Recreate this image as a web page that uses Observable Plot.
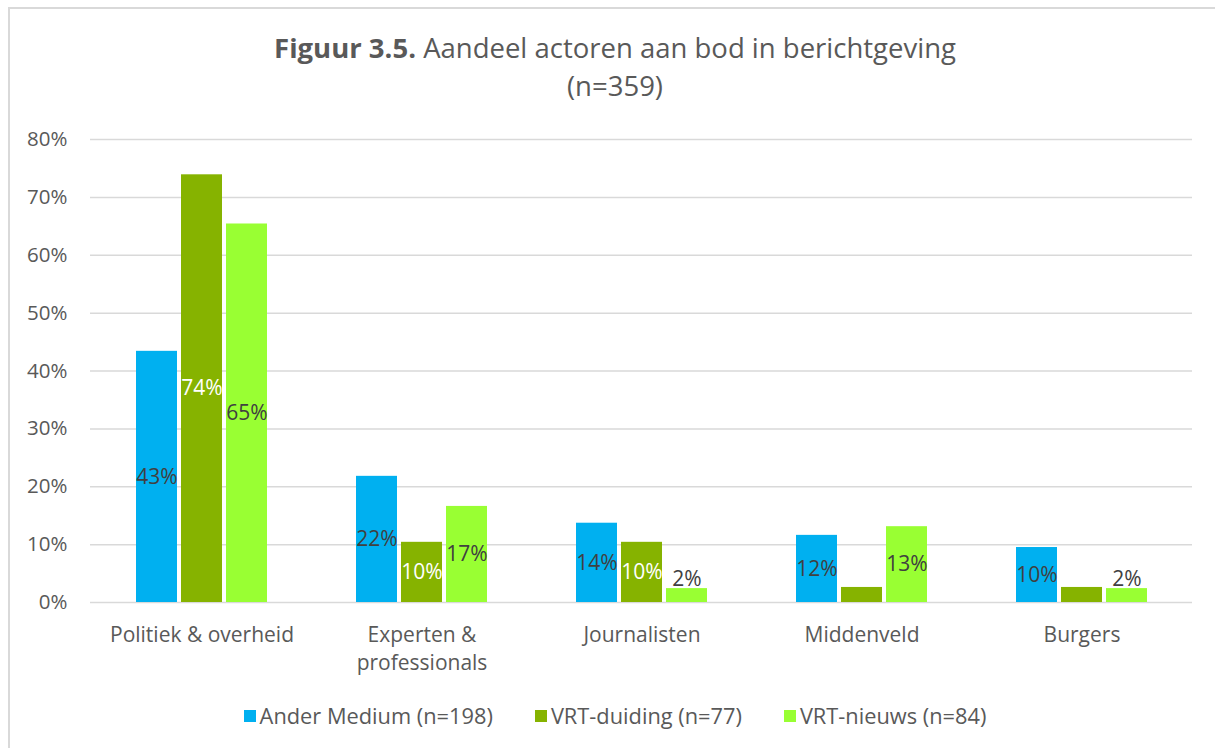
<!DOCTYPE html>
<html>
<head>
<meta charset="utf-8">
<script src="https://cdn.jsdelivr.net/npm/d3@7"></script>
<script src="https://cdn.jsdelivr.net/npm/@observablehq/plot@0.6"></script>
<style>
  html, body { margin: 0; padding: 0; background: #fff; }
  body { width: 1215px; height: 748px; overflow: hidden; position: relative; font-family: "Open Sans", sans-serif; color: #595959; }
  #frame { position: absolute; left: 8px; top: 7px; width: 1400px; height: 900px; border-top: 2px solid #d9d9d9; border-left: 2px solid #d9d9d9; }
  #title { position: absolute; left: 0; top: 29px; width: 1230px; text-align: center; font-size: 27.5px; line-height: 38px; color: #595959; }
  #grid, #chart { position: absolute; left: 0; top: 120px; }
  #legend { position: absolute; left: 0; top: 701px; width: 1230px; display: flex; justify-content: center; gap: 42px; font-size: 21.8px; color: #595959; }
  .item { display: flex; align-items: center; gap: 4px; }
  .sw { width: 12px; height: 12px; display: inline-block; }
</style>
</head>
<body>
<div id="frame"></div>
<div id="title"><b>Figuur 3.5.</b> Aandeel actoren aan bod in berichtgeving<br>(n=359)</div>
<div id="grid"></div>
<div id="chart"></div>
<div id="legend"></div>
<script>
const categories = ["Politiek & overheid", "Experten & professionals", "Journalisten", "Middenveld", "Burgers"];
const categoryLabels = ["Politiek & overheid", "Experten &\nprofessionals", "Journalisten", "Middenveld", "Burgers"];
const series = ["Ander Medium (n=198)", "VRT-duiding (n=77)", "VRT-nieuws (n=84)"];
const anderMedium = [43.4, 21.8, 13.7, 11.6, 9.5];
const vrtDuiding = [73.9, 10.4, 10.4, 2.6, 2.6];
const vrtNieuws = [65.4, 16.6, 2.4, 13.1, 2.4];
const showLabel = [
  [true, true, true, true, true],
  [true, true, true, false, false],
  [true, true, true, true, true]
];
const colors = ["#00B0F0", "#86B300", "#99FF33"];
const labelColors = ["#404040", "#ffffff", "#404040"];
const yTicks = [0, 10, 20, 30, 40, 50, 60, 70, 80];

const valuesBySeries = [anderMedium, vrtDuiding, vrtNieuws];
const rows = [];
categories.forEach((c, i) => {
  series.forEach((s, j) => {
    rows.push({cat: c, label: categoryLabels[i], series: s, value: valuesBySeries[j][i], show: showLabel[j][i], lc: labelColors[j]});
  });
});
const labelRows = rows.filter(d => d.show);
const inside = labelRows.filter(d => d.value >= 5);
const above = labelRows.filter(d => d.value < 5);
const catRows = categories.map((c, i) => ({cat: c, label: categoryLabels[i]}));

const common = {
  width: 1215,
  height: 570,
  marginTop: 19,
  marginBottom: 88,
  marginLeft: 90,
  marginRight: 23,
  style: {fontFamily: "Open Sans, sans-serif", fontSize: "20px", color: "#595959", background: "transparent"}
};

// background: gridlines and y axis across the whole frame
const grid = Plot.plot({
  ...common,
  y: {domain: [0, 80]},
  marks: [
    Plot.ruleY(yTicks, {stroke: "#d9d9d9", strokeWidth: 1.5}),
    Plot.axisY(yTicks, {tickSize: 0, tickPadding: 23, tickFormat: d => d + "%", label: null, fill: "#595959", fontSize: 20.5})
  ]
});
document.getElementById("grid").appendChild(grid);

const plot = Plot.plot({
  ...common,
  fx: {domain: categories, paddingInner: 0.405, paddingOuter: 0.2045, axis: null, label: null},
  x: {domain: series, paddingInner: 0.1, paddingOuter: 0, axis: null},
  y: {domain: [0, 80], axis: null},
  color: {domain: series, range: colors},
  marks: [
    Plot.barY(rows, {fx: "cat", x: "series", y: "value", fill: "series"}),
    Plot.text(inside, {fx: "cat", x: "series", y: d => d.value / 2, text: d => Math.round(d.value) + "%", fill: "lc", fontSize: 21}),
    Plot.text(above, {fx: "cat", x: "series", y: "value", text: d => Math.round(d.value) + "%", fill: "lc", fontSize: 21, lineAnchor: "bottom", dy: -3}),
    Plot.text(catRows, {fx: "cat", text: "label", frameAnchor: "bottom", lineAnchor: "top", dy: 19, lineHeight: 1.35, fill: "#595959", fontSize: 21})
  ]
});
document.getElementById("chart").appendChild(plot);

const legend = document.getElementById("legend");
series.forEach((s, j) => {
  const item = document.createElement("div");
  item.className = "item";
  const sw = document.createElement("span");
  sw.className = "sw";
  sw.style.background = colors[j];
  const t = document.createElement("span");
  t.textContent = s;
  item.appendChild(sw);
  item.appendChild(t);
  legend.appendChild(item);
});
</script>
</body>
</html>
